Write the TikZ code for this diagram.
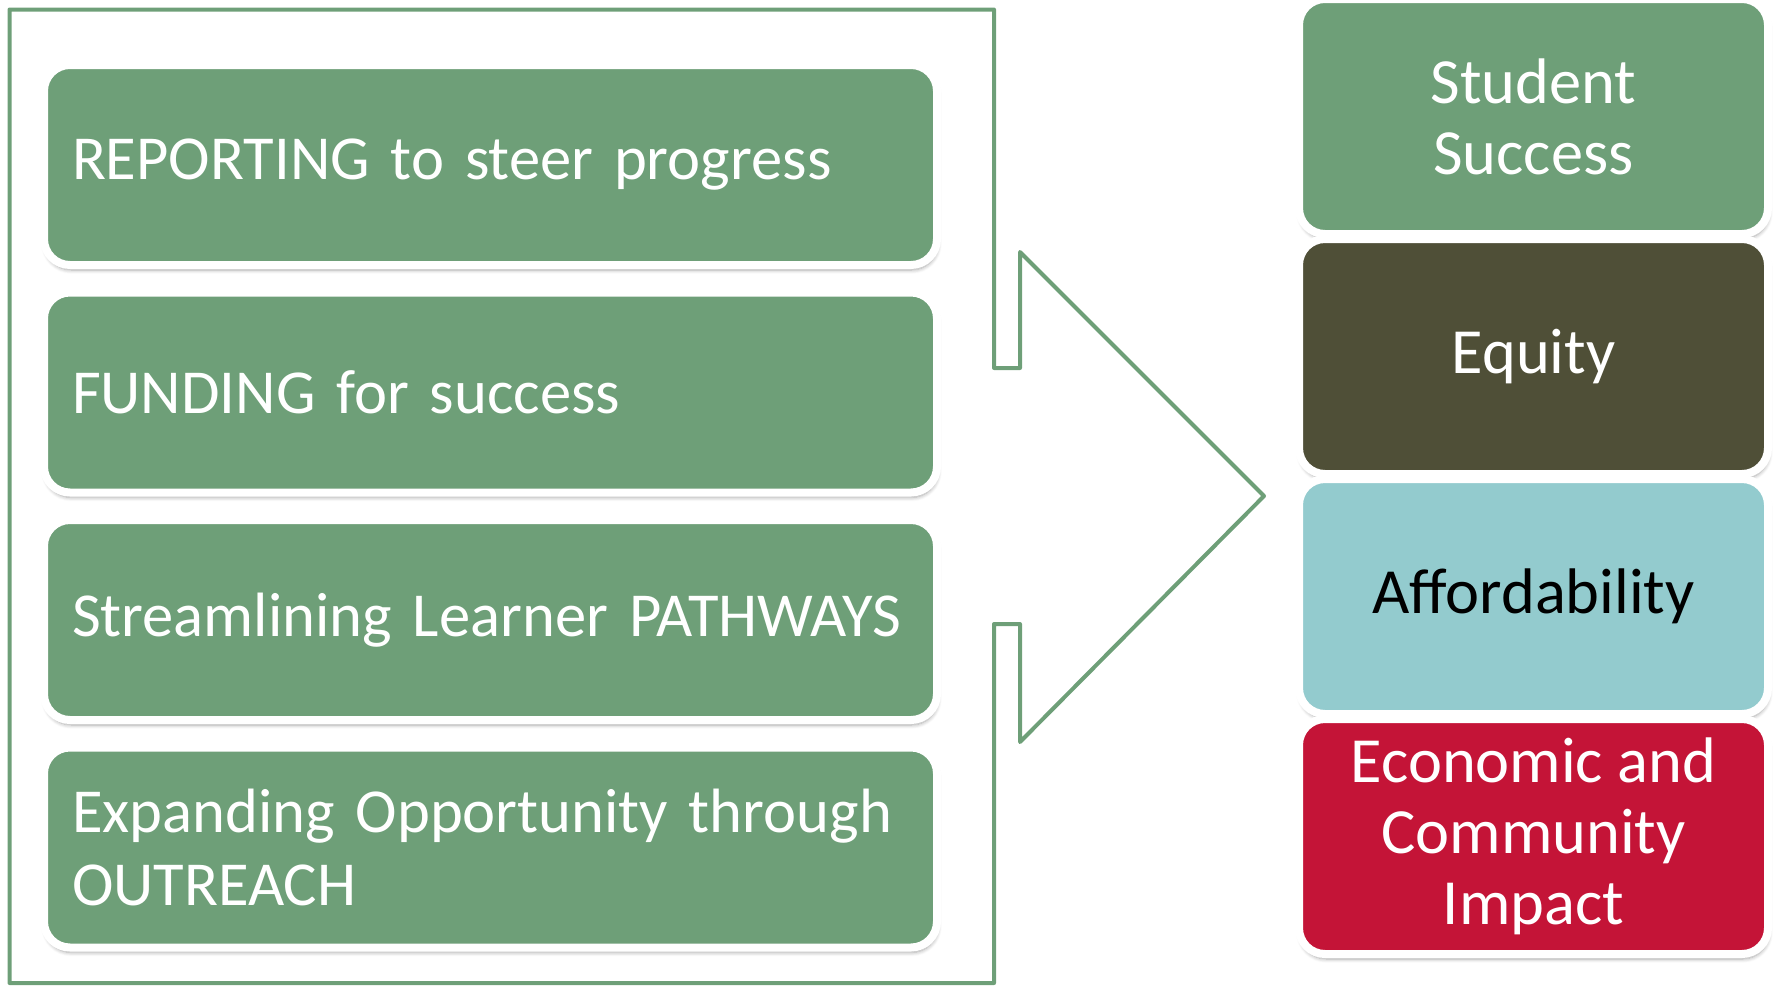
\documentclass[tikz,border=0pt]{standalone}
\usepackage{fontspec}
\setmainfont{Carlito}
\usepackage{tikz}
\usetikzlibrary{positioning,shadows.blur}
\definecolor{sage}{HTML}{6E9F78}
\definecolor{eqdark}{HTML}{4F4F37}
\definecolor{affteal}{HTML}{93CBCE}
\definecolor{econred}{HTML}{C41437}

\begin{document}
\begin{tikzpicture}[x=0.5pt, y=-0.5pt,
  card/.style={rounded corners=13pt, draw=white, line width=4pt, outer sep=0pt,
    blur shadow={shadow xshift=0.5pt, shadow yshift=-2.5pt, shadow blur steps=6, shadow opacity=35}},
  lbox/.style={card, fill=sage, text=white, minimum width=446.5pt, minimum height=100pt,
    text width=418.5pt, inner xsep=14pt, align=left, font=\fontsize{31.3}{36.5}\selectfont},
  rbox/.style={card, minimum width=234.5pt, minimum height=117.5pt, align=center,
    font=\fontsize{32.2}{35.5}\selectfont}]
\useasboundingbox (0,0) rectangle (1776,985);
% frame with the arrow
\draw[sage, line width=2pt, line join=round] (9.5,9.5) -- (994,9.5) -- (994,368) -- (1020,368) -- (1020,252)
  -- (1264,496) -- (1020,742) -- (1020,624) -- (994,624) -- (994,983) -- (9.5,983) -- cycle;
% levers
\node[lbox] (rep) at (490.5,165) {REPORTING to steer progress};
\node[lbox, below=13.75pt of rep] (fund) {FUNDING for success};
\node[lbox, below=13.75pt of fund] (path) {Streamlining Learner PATHWAYS};
\node[lbox, below=13.75pt of path] (outr) {Expanding Opportunity through\\OUTREACH};
% goals
\node[rbox, fill=sage, text=white] (succ) at (1533.5,116.5) {Student\\Success};
\node[rbox, fill=eqdark, text=white, below=2.5pt of succ] (equi) {Equity};
\node[rbox, fill=affteal, text=black, below=2.5pt of equi] (aff) {Affordability};
\node[rbox, fill=econred, text=white, below=2.5pt of aff] (econ) {Economic and\\Community\\Impact};
\end{tikzpicture}
\end{document}
